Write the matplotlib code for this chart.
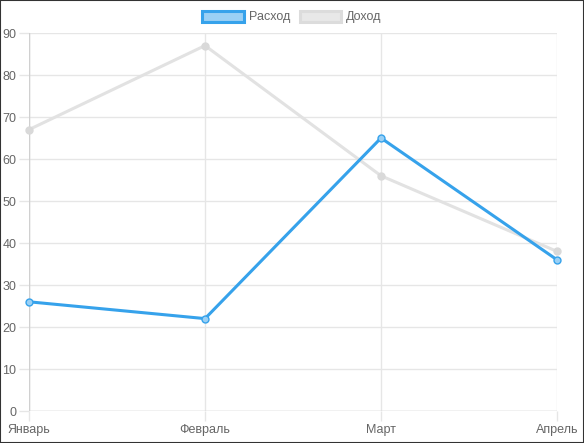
import matplotlib
matplotlib.use("Agg")
import matplotlib.pyplot as plt
from matplotlib.patches import Patch, Rectangle

months = ["Январь", "Февраль", "Март", "Апрель"]
expense = [26, 22, 65, 36]
income = [67, 87, 56, 38]
y_ticks = list(range(0, 100, 10))

plt.rcParams['font.family'] = ['Liberation Sans', 'DejaVu Sans']

W, H = 584, 443
fig = plt.figure(figsize=(W / 100, H / 100), dpi=100)
ax = fig.add_axes([29 / W, 1 - 411 / H, (557 - 29) / W, (411 - 33) / H])

grid_c = "#e6e6e6"
txt_c = "#666666"
x = list(range(len(months)))

ax.plot(x, income, color="#e2e2e2", lw=2.2, marker="o", ms=5,
        mfc="#d9d9d9", mec="#d9d9d9", zorder=3, clip_on=False)
ax.plot(x, expense, color="#36a2eb", lw=2.2, marker="o", ms=5,
        mfc="#9ad0f5", mec="#36a2eb", mew=1, zorder=4, clip_on=False)

ax.set_xlim(0, 3)
ax.set_ylim(0, 90)
ax.set_xticks(x)
ax.set_xticklabels(months)
ax.set_yticks(y_ticks)
ax.grid(True, color=grid_c, lw=1)
for s in ax.spines.values():
    s.set_visible(False)
ax.axhline(0, color="#d0d0d0", lw=1, zorder=2)
ax.axvline(0, color="#d0d0d0", lw=1, zorder=2)
ax.tick_params(colors=grid_c, labelcolor=txt_c, labelsize=9, length=7, width=1, pad=2)

handles = [Patch(facecolor="#9ad0f5", edgecolor="#36a2eb", lw=2.2, label="Расход"),
           Patch(facecolor="#e8e8e8", edgecolor="#dcdcdc", lw=2.2, label="Доход")]
leg = fig.legend(handles=handles, loc="center", bbox_to_anchor=(0.5, 1 - 17 / H),
                 ncol=2, frameon=False, fontsize=9, handlelength=3.3, handleheight=1.0,
                 columnspacing=0.8, handletextpad=0.4)
for t in leg.get_texts():
    t.set_color(txt_c)

fig.patches.append(Rectangle((0, 0), 1, 1, transform=fig.transFigure, fill=False,
                             edgecolor="#333333", lw=1.5))

fig.savefig("out.png", dpi=100)
